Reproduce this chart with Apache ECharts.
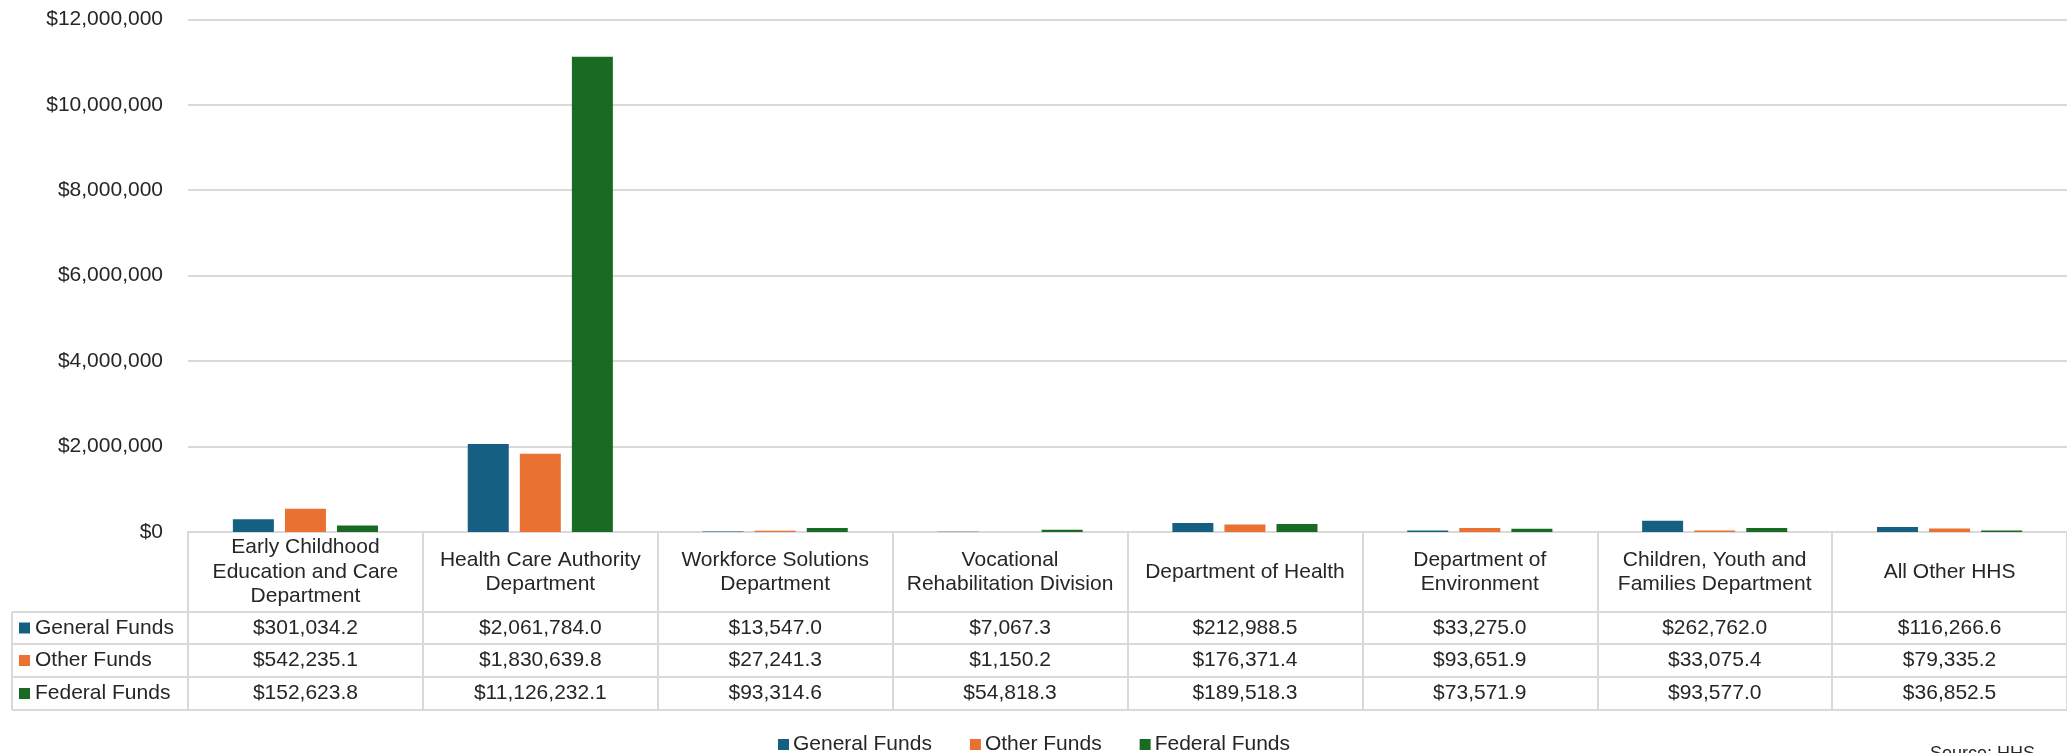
<!DOCTYPE html>
<html>
<head>
<meta charset="utf-8">
<title>HHS Funds by Agency</title>
<script src="https://cdn.jsdelivr.net/npm/echarts@6/dist/echarts.min.js"></script>
<style>
  html, body { margin: 0; padding: 0; background: #fff; }
  #chart { width: 2067px; height: 753px; }
</style>
</head>
<body>
<div id="chart"></div>
<script>
// categories (header text of the data table, line breaks as in the original)
const categories = [
  'Early Childhood\nEducation and Care\nDepartment',
  'Health Care Authority\nDepartment',
  'Workforce Solutions\nDepartment',
  'Vocational\nRehabilitation Division',
  'Department of Health',
  'Department of\nEnvironment',
  'Children, Youth and\nFamilies Department',
  'All Other HHS'
];
const seriesNames = ['General Funds', 'Other Funds', 'Federal Funds'];
const generalFunds = [301034.2, 2061784.0, 13547.0, 7067.3, 212988.5, 33275.0, 262762.0, 116266.6];
const otherFunds = [542235.1, 1830639.8, 27241.3, 1150.2, 176371.4, 93651.9, 33075.4, 79335.2];
const federalFunds = [152623.8, 11126232.1, 93314.6, 54818.3, 189518.3, 73571.9, 93577.0, 36852.5];
const yTicks = [0, 2000000, 4000000, 6000000, 8000000, 10000000, 12000000];

const colors = ['#156082', '#E97132', '#196B24'];
const FONT = "'Liberation Sans', Arial, sans-serif";
const TXT = '#262626';
const LINE = '#d9d9d9';

const money0 = v => '$' + Math.round(v).toLocaleString('en-US');
const money1 = v => '$' + v.toLocaleString('en-US', {minimumFractionDigits: 1, maximumFractionDigits: 1});

let myChart = echarts.init(document.getElementById('chart'));

myChart.setOption({
  animation: false,
  color: colors,
  textStyle: { fontFamily: FONT },
  // right edge pushed just off canvas so the last table border isn't drawn
  grid: { left: 188, right: -2, top: 19.3, bottom: 221, containLabel: false },
  legend: {
    data: seriesNames,
    left: 778,
    top: 734,
    padding: 0,
    icon: 'rect',
    itemWidth: 11,
    itemHeight: 11,
    itemGap: 38,
    textStyle: { fontSize: 21, color: TXT, fontFamily: FONT, padding: [0, 0, 0, -1] }
  },
  xAxis: {
    type: 'category',
    data: categories,
    axisLine: { lineStyle: { color: LINE, width: 2 } },
    axisTick: { show: true, length: 178, lineStyle: { color: LINE, width: 2 } },
    axisLabel: {
      interval: 0,
      margin: 40,
      verticalAlign: 'middle',
      align: 'center',
      fontSize: 21,
      lineHeight: 24.5,
      color: TXT,
      fontFamily: FONT
    }
  },
  yAxis: {
    type: 'value',
    min: yTicks[0],
    max: yTicks[yTicks.length - 1],
    interval: yTicks[1] - yTicks[0],
    axisLine: { show: false },
    axisTick: { show: false },
    splitLine: { lineStyle: { color: LINE, width: 2 } },
    axisLabel: {
      margin: 25,
      fontSize: 21,
      color: TXT,
      fontFamily: FONT,
      formatter: money0
    }
  },
  series: [
    { name: seriesNames[0], type: 'bar', data: generalFunds, barWidth: 41, barGap: '27%' },
    { name: seriesNames[1], type: 'bar', data: otherFunds, barWidth: 41, barGap: '27%' },
    { name: seriesNames[2], type: 'bar', data: federalFunds, barWidth: 41, barGap: '27%' }
  ]
});

// data table under the axis, placed on the category positions of the x axis
const rows = [generalFunds, otherFunds, federalFunds];
const rowLines = [612, 644, 677, 710];
const tableLeft = 12;
let g = [];
rowLines.forEach(y => {
  g.push({ type: 'line', shape: { x1: tableLeft, y1: y, x2: 2067, y2: y }, style: { stroke: LINE, lineWidth: 2 }, silent: true });
});
g.push({ type: 'line', shape: { x1: tableLeft, y1: rowLines[0], x2: tableLeft, y2: rowLines[3] }, style: { stroke: LINE, lineWidth: 2 }, silent: true });
rows.forEach((vals, r) => {
  let cy = (rowLines[r] + rowLines[r + 1]) / 2;
  // legend key of the row
  g.push({ type: 'rect', shape: { x: 19, y: cy - 5.5, width: 11, height: 11 }, style: { fill: colors[r] }, silent: true });
  g.push({ type: 'text', x: 35, y: cy, style: { text: seriesNames[r], fontSize: 21, fontFamily: FONT, fill: TXT, textVerticalAlign: 'middle', verticalAlign: 'middle' }, silent: true });
  vals.forEach((v, i) => {
    let cx = myChart.convertToPixel({ xAxisIndex: 0 }, categories[i]);
    g.push({ type: 'text', x: cx, y: cy, style: { text: money1(v), fontSize: 21, fontFamily: FONT, fill: TXT, align: 'center', verticalAlign: 'middle', textAlign: 'center', textVerticalAlign: 'middle' }, silent: true });
  });
});
// source note (cut off at the bottom edge, as in the original)
g.push({ type: 'text', x: 1930, y: 745, style: { text: 'Source: HHS', fontSize: 18, fontFamily: FONT, fill: TXT, verticalAlign: 'top', textVerticalAlign: 'top' }, silent: true });

myChart.setOption({ graphic: g });
</script>
</body>
</html>
